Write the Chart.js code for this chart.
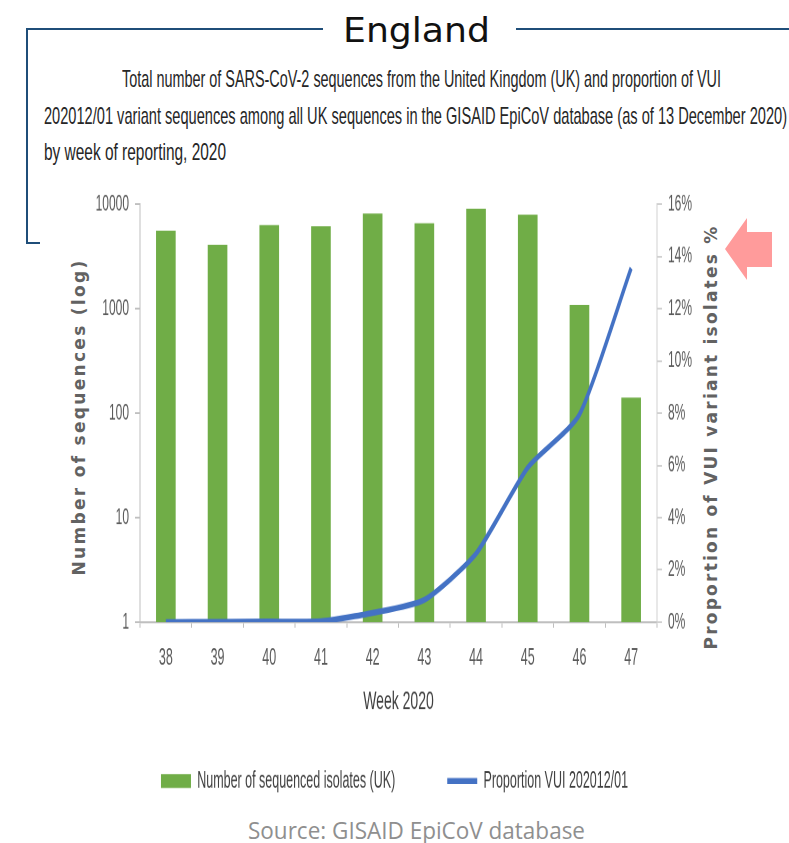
<!DOCTYPE html>
<html>
<head>
<meta charset="utf-8">
<script src="https://cdn.jsdelivr.net/npm/chart.js@4.4.0/dist/chart.umd.min.js"></script>
<style>
html,body{margin:0;padding:0;background:#fff}
#page{position:relative;width:789px;height:843px;overflow:hidden;background:#fff}
.ln{position:absolute;background:#1f4e79}
.txt{position:absolute;white-space:nowrap;line-height:1;transform-origin:0 50%}
.sub{font-family:"Liberation Sans",Arial,sans-serif;font-size:24px;color:#262626}
.rot{position:absolute;white-space:nowrap;line-height:1;font:bold 17px "DejaVu Sans",sans-serif;color:#626262}
#wrap{position:absolute;left:0;width:789px;transform-origin:0 0}
</style>
</head>
<body>
<div id="page">
  <div class="ln" style="left:26px;top:28px;width:297px;height:2px"></div>
  <div class="ln" style="left:516px;top:28px;width:273px;height:2px"></div>
  <div class="ln" style="left:26px;top:28px;width:2px;height:216px"></div>
  <div class="ln" style="left:26px;top:242px;width:14px;height:2px"></div>

  <span class="txt" data-x="343" data-y="30" data-w="147" style="font:34px 'DejaVu Sans',sans-serif;color:#111">England</span>
  <span class="txt sub" data-x="122" data-y="79" data-w="599">Total number of SARS-CoV-2 sequences from the United Kingdom (UK) and proportion of VUI</span>
  <span class="txt sub" data-x="44" data-y="116" data-w="743">202012/01 variant sequences among all UK sequences in the GISAID EpiCoV database (as of 13 December 2020)</span>
  <span class="txt sub" data-x="44" data-y="152" data-w="182">by week of reporting, 2020</span>
  <span class="txt" data-x="248" data-y="830" data-w="337" style="font:23px 'Open Sans',sans-serif;color:#8f8f8f">Source: GISAID EpiCoV database</span>

  <span class="rot" data-cx="78" data-cy="417" data-len="317">Number of sequences (log)</span>
  <span class="rot" data-cx="710" data-cy="437" data-len="425">Proportion of VUI variant isolates %</span>

  <svg style="position:absolute;left:0;top:0" width="789" height="843">
    <polygon points="725,249 747,218 747,232 772,232 772,267 747,267 747,280" fill="#ff9b9b"/>
  </svg>

  <div id="wrap"><canvas id="chart"></canvas></div>
</div>

<script>
// week labels and the two series
const weeks = ['38', '39', '40', '41', '42', '43', '44', '45', '46', '47'];
const sequencedIsolates = [5600, 4100, 6350, 6170, 8200, 6600, 9100, 7980, 1090, 141];
const vuiProportion = [0, 0.01, 0.02, 0.03, 0.35, 0.85, 2.62, 5.92, 7.95, 13.56];
const logTicks = [1, 10, 100, 1000, 10000];

const FONT = '"Liberation Sans", Arial, sans-serif';
const tickGrey = '#595959';
const axisGrey = '#bfbfbf';

// the original chart picture was pasted stretched upwards, so the canvas is too
const S = 1.85;
const TOP = 180;
const toChart = py => (py - TOP) / S;
const wrap = document.getElementById('wrap');
const chartH = (843 - TOP) / S;
wrap.style.top = TOP + 'px';
wrap.style.height = chartH + 'px';
wrap.style.transform = 'scaleY(' + S + ')';

// page positions (px) of the plot box, tick row, x title and legend row
const plotTop = 202, plotBottom = 622, xLabelMid = 658, xTitleMid = 702, legendMid = 781;
const legendFont = 12.5, legendPad = 52, legendBoxH = 14 / S;
const legendItemH = Math.max(legendFont, legendBoxH);
const legendTop = toChart(legendMid) - legendPad - legendItemH / 2;
const legendH = legendItemH + legendPad + 10;
const xAxisH = legendTop - toChart(plotBottom);
const xTickLen = 3, xTickFont = 12.5, xTitleFont = 14;
const xTickPad = toChart(xLabelMid) - toChart(plotBottom) - xTickLen - xTickFont * 0.6;
const xTitlePad = legendTop - xTitleFont * 0.6 - toChart(xTitleMid);

// place the html texts and squeeze them to the right width
document.querySelectorAll('.txt').forEach(el => {
  const r = el.getBoundingClientRect();
  el.style.left = el.dataset.x + 'px';
  el.style.top = (el.dataset.y - r.height / 2) + 'px';
  el.style.transform = 'scaleX(' + (el.dataset.w / r.width) + ')';
});
// rotated axis titles, letter spaced to their length
document.querySelectorAll('.rot').forEach(el => {
  const r = el.getBoundingClientRect();
  const n = el.textContent.length;
  const len = +el.dataset.len;
  el.style.letterSpacing = ((len - r.width) / n) + 'px';
  el.style.left = (el.dataset.cx - len / 2) + 'px';
  el.style.top = (el.dataset.cy - r.height / 2) + 'px';
  el.style.width = len + 'px';
  el.style.textAlign = 'center';
  el.style.transform = 'rotate(-90deg)';
});

new Chart(document.getElementById('chart'), {
  data: {
    labels: weeks,
    datasets: [
      {
        type: 'bar',
        label: 'Number of sequenced isolates (UK)',
        data: sequencedIsolates,
        backgroundColor: '#70ad47',
        borderWidth: 0,
        barPercentage: 0.38,
        categoryPercentage: 1,
        pointStyle: 'rect',
        yAxisID: 'y',
        order: 1
      },
      {
        type: 'line',
        label: 'Proportion VUI 202012/01',
        data: vuiProportion,
        borderColor: '#4472c4',
        backgroundColor: '#4472c4',
        borderWidth: 3.2,
        pointRadius: 0,
        pointStyle: 'line',
        tension: 0.2,
        yAxisID: 'y1',
        order: 0
      }
    ]
  },
  options: {
    responsive: true,
    maintainAspectRatio: false,
    animation: false,
    devicePixelRatio: 2,
    layout: {padding: {top: toChart(plotTop), left: 0, right: 0, bottom: chartH - legendTop - legendH}},
    plugins: {
      tooltip: {enabled: false},
      legend: {
        position: 'bottom',
        labels: {
          usePointStyle: true,
          pointStyleWidth: 30,
          boxHeight: legendBoxH,
          padding: legendPad,
          color: '#404040',
          font: {family: FONT, size: legendFont},
          sort: (a, b) => a.datasetIndex - b.datasetIndex
        }
      }
    },
    scales: {
      x: {
        offset: true,
        grid: {offset: true, drawOnChartArea: false, tickLength: xTickLen, color: axisGrey},
        border: {color: axisGrey, width: 1.1},
        ticks: {color: tickGrey, font: {family: FONT, size: xTickFont}, padding: xTickPad},
        title: {display: true, text: 'Week 2020', color: '#404040', font: {family: FONT, size: xTitleFont}, padding: {top: 0, bottom: xTitlePad}},
        afterFit(s) { s.height = xAxisH; }
      },
      y: {
        type: 'logarithmic',
        position: 'left',
        min: 1,
        max: 10000,
        afterBuildTicks(s) { s.ticks = logTicks.map(v => ({value: v})); },
        ticks: {color: tickGrey, font: {family: FONT, size: 12}, padding: 6, callback: v => String(v)},
        grid: {drawOnChartArea: false, tickLength: 5, color: axisGrey},
        border: {color: axisGrey},
        afterFit(s) { s.width = 140; }
      },
      y1: {
        type: 'linear',
        position: 'right',
        min: 0,
        max: 16,
        ticks: {stepSize: 2, color: tickGrey, font: {family: FONT, size: 12}, padding: 6, callback: v => v + '%'},
        grid: {drawOnChartArea: false, tickLength: 5, color: '#d0d0d0'},
        border: {color: '#d0d0d0'},
        afterFit(s) { s.width = 132; }
      }
    }
  }
});
</script>
</body>
</html>
